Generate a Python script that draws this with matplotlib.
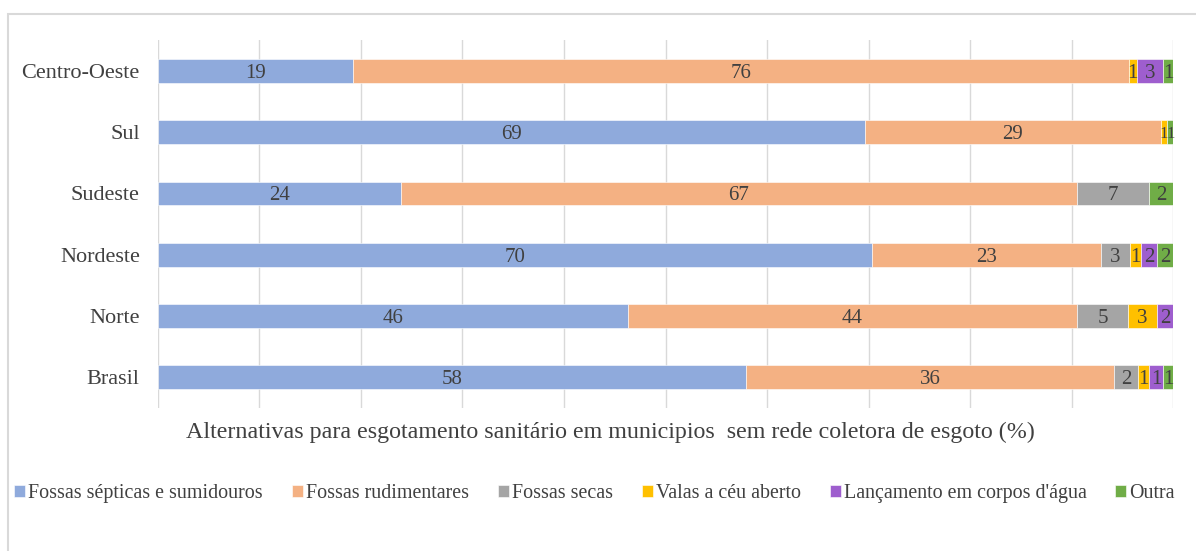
import matplotlib.pyplot as plt
from matplotlib.patches import Rectangle

# Regions (bottom to top) and shares per destination (%)
regions = ['Brasil', 'Norte', 'Nordeste', 'Sudeste', 'Sul', 'Centro-Oeste']
series = ['Fossas sépticas e sumidouros', 'Fossas rudimentares', 'Fossas secas',
          'Valas a céu aberto', 'Lançamento em corpos d\'água', 'Outra']
fossas_septicas = [58.0, 46.0, 70.3, 23.9, 69.4, 19.3]
fossas_rudimentares = [36.3, 44.0, 22.6, 66.6, 29.1, 76.5]
fossas_secas = [2.3, 5.0, 2.8, 7.1, 0.0, 0.0]
valas = [1.1, 2.8, 1.1, 0.0, 0.6, 0.8]
lancamento = [1.4, 1.6, 1.6, 0.0, 0.0, 2.6]
outra = [1.0, 0.0, 1.6, 2.4, 0.6, 1.0]

colors = ['#8FAADC', '#F4B183', '#A5A5A5', '#FFC000', '#9E5ECE', '#70AD47']
data = [fossas_septicas, fossas_rudimentares, fossas_secas, valas, lancamento, outra]

fig = plt.figure(figsize=(11.96, 5.51), dpi=100)
ax = fig.add_axes([0.132, 0.2595, 0.849, 0.6675])

# normalise each bar to 100%
totals = [sum(col) for col in zip(*data)]
left = [0.0] * len(regions)
for name, vals, c in zip(series, data, colors):
    pct = [v / t * 100 for v, t in zip(vals, totals)]
    bars = ax.barh(regions, pct, left=left, height=0.39, color=c, label=name,
                   edgecolor='white', linewidth=0.4, zorder=3)
    for b, v, p in zip(bars, vals, pct):
        if v > 0:
            # tiny slices get a narrower label so they don't pile up
            fs = 15 if p > 0.7 else 12
            ax.text(b.get_x() + p / 2, b.get_y() + b.get_height() / 2, f'{v:.0f}',
                    ha='center', va='center_baseline', fontsize=fs, color='#404040',
                    family='Liberation Serif', zorder=4)
    left = [l + p for l, p in zip(left, pct)]

ax.set_xlim(0, 100)
ax.set_ylim(-0.5, 5.5)
ax.set_xticks(range(0, 101, 10))
ax.tick_params(axis='x', length=0, labelbottom=False)
ax.tick_params(axis='y', length=0, labelsize=16, pad=13)
for lab in ax.get_yticklabels():
    lab.set_family('Liberation Serif')
    lab.set_color('#404040')
ax.grid(axis='x', color='#D9D9D9', linewidth=1, zorder=0)
for s in ax.spines.values():
    s.set_visible(False)

fig.text(0.51, 0.216, 'Alternativas para esgotamento sanitário em municipios  sem rede coletora de esgoto (%)',
         ha='center', va='center', fontsize=17.3, family='Liberation Serif', color='#404040')

leg = fig.legend(loc='center', bbox_to_anchor=(0.497, 0.105), ncol=6, frameon=False,
                 handlelength=0.55, handleheight=0.55, handletextpad=0.15, columnspacing=1.45,
                 prop={'family': 'Liberation Serif', 'size': 14.4})
for t in leg.get_texts():
    t.set_color('#404040')

# chart border
fig.patches.append(Rectangle((8 / 1196, -0.1), 1.2, 1.1 - 14 / 551, transform=fig.transFigure,
                             fill=False, edgecolor='#D9D9D9', linewidth=1.5))

plt.savefig('out.png', dpi=100)
